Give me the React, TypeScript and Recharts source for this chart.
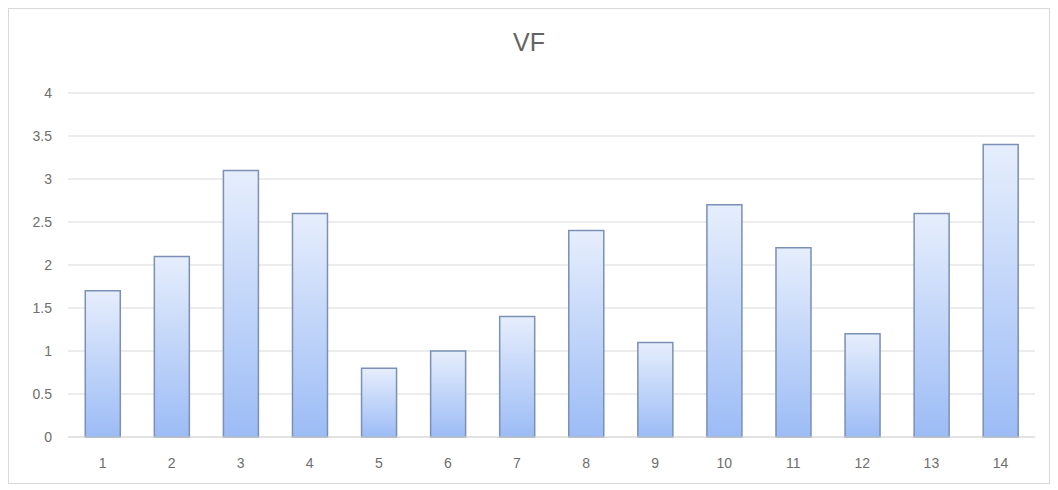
import React from "react";
import { BarChart, Bar, XAxis, YAxis, CartesianGrid } from "recharts";

const categories = ["1", "2", "3", "4", "5", "6", "7", "8", "9", "10", "11", "12", "13", "14"];
const vfValues = [1.7, 2.1, 3.1, 2.6, 0.8, 1.0, 1.4, 2.4, 1.1, 2.7, 2.2, 1.2, 2.6, 3.4];
const yTicks = [0, 0.5, 1, 1.5, 2, 2.5, 3, 3.5, 4];
const title = "VF";

const data = categories.map((c, i) => ({ name: c, value: vfValues[i] }));

const FONT = "'Liberation Sans', 'DejaVu Sans', sans-serif";

export default function App() {
  return (
    <div
      style={{
        position: "relative",
        width: 1040,
        height: 474,
        border: "1px solid #d9d9d9",
        background: "#fff",
        fontFamily: FONT,
      }}
    >
      <div
        style={{
          position: "absolute",
          top: 19,
          left: 0,
          width: 1040,
          textAlign: "center",
          fontSize: 25,
          color: "#636363",
          fontFamily: FONT,
        }}
      >
        {title}
      </div>
      <BarChart
        width={1040}
        height={474}
        data={data}
        margin={{ top: 84, right: 14, bottom: 0, left: 0 }}
        barCategoryGap="25%"
      >
        <defs>
          <linearGradient id="barGrad" x1="0" y1="0" x2="0" y2="1">
            <stop offset="0%" stopColor="#e6eefc" />
            <stop offset="100%" stopColor="#9cbcf6" />
          </linearGradient>
        </defs>
        <CartesianGrid vertical={false} stroke="#d9d9d9" />
        <XAxis
          dataKey="name"
          height={46}
          tickLine={false}
          axisLine={{ stroke: "#d9d9d9" }}
          tickMargin={15}
          tick={{ fill: "#6e6e6e", fontSize: 14, fontFamily: FONT }}
        />
        <YAxis
          width={59}
          domain={[0, 4]}
          ticks={yTicks}
          tickLine={false}
          axisLine={false}
          tickMargin={10}
          tick={{ fill: "#6e6e6e", fontSize: 14, fontFamily: FONT }}
        />
        <Bar
          dataKey="value"
          fill="url(#barGrad)"
          stroke="#7b90b4"
          strokeWidth={1.5}
          isAnimationActive={false}
        />
      </BarChart>
    </div>
  );
}
